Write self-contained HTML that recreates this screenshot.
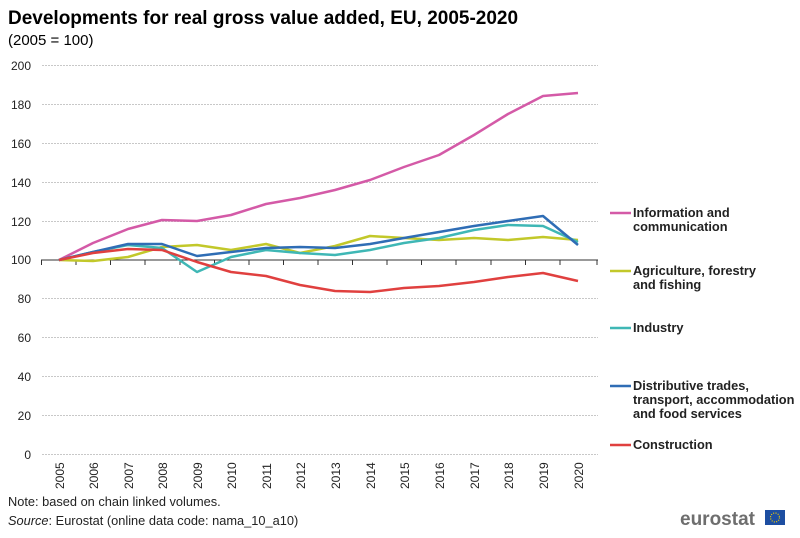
<!DOCTYPE html>
<html><head><meta charset="utf-8"><style>
body{margin:0;width:800px;height:533px;background:#fff;overflow:hidden;font-family:"Liberation Sans",sans-serif}
</style></head><body>
<svg width="800" height="533" xmlns="http://www.w3.org/2000/svg" font-family="Liberation Sans, sans-serif">
<text x="8" y="24" font-size="19" font-weight="bold" fill="#000">Developments for real gross value added, EU, 2005-2020</text>
<text x="8" y="45" font-size="15" fill="#000">(2005 = 100)</text>
<g stroke="#c8c8c8" stroke-dasharray="2,1" stroke-width="1">
<line x1="42" x2="598" y1="65.5" y2="65.5"/><line x1="42" x2="598" y1="104.5" y2="104.5"/>
<line x1="42" x2="598" y1="143.5" y2="143.5"/><line x1="42" x2="598" y1="182.5" y2="182.5"/>
<line x1="42" x2="598" y1="221.5" y2="221.5"/><line x1="42" x2="598" y1="298.5" y2="298.5"/>
<line x1="42" x2="598" y1="337.5" y2="337.5"/><line x1="42" x2="598" y1="376.5" y2="376.5"/>
<line x1="42" x2="598" y1="415.5" y2="415.5"/><line x1="42" x2="598" y1="454.5" y2="454.5"/>
</g>
<line x1="41" x2="598" y1="260" y2="260" stroke="#333" stroke-width="1"/>
<g stroke="#333" stroke-width="1">
<line x1="41.5" x2="41.5" y1="260" y2="265"/><line x1="76" x2="76" y1="260" y2="265"/><line x1="110.5" x2="110.5" y1="260" y2="265"/>
<line x1="145" x2="145" y1="260" y2="265"/><line x1="180" x2="180" y1="260" y2="265"/><line x1="214.5" x2="214.5" y1="260" y2="265"/>
<line x1="249" x2="249" y1="260" y2="265"/><line x1="283.5" x2="283.5" y1="260" y2="265"/><line x1="318" x2="318" y1="260" y2="265"/>
<line x1="352.5" x2="352.5" y1="260" y2="265"/><line x1="387" x2="387" y1="260" y2="265"/><line x1="421.5" x2="421.5" y1="260" y2="265"/>
<line x1="456" x2="456" y1="260" y2="265"/><line x1="491" x2="491" y1="260" y2="265"/><line x1="525.5" x2="525.5" y1="260" y2="265"/>
<line x1="560" x2="560" y1="260" y2="265"/><line x1="597" x2="597" y1="260" y2="265"/>
</g>
<g font-size="12" fill="#222" text-anchor="end">
<text x="31" y="70">200</text><text x="31" y="109">180</text><text x="31" y="148">160</text>
<text x="31" y="187">140</text><text x="31" y="226">120</text><text x="31" y="264">100</text>
<text x="31" y="303">80</text><text x="31" y="342">60</text><text x="31" y="381">40</text>
<text x="31" y="420">20</text><text x="31" y="459">0</text>
</g>
<g fill="none" stroke-width="2.5" stroke-linejoin="round">
<polyline stroke="#d45aa7" points="59,260 93,243 128,229 162,220 197,221 231,215 266,204 300,198 335,190 370,180 404,167 439,155 474,135 508,114 543,96 578,93"/>
<polyline stroke="#c2c82a" points="59,260 93,261 128,257 162,247 197,245 231,250 266,244 300,253 335,246 370,236 404,238 439,240 474,238 508,240 543,237 578,240"/>
<polyline stroke="#3fb7b5" points="59,260 93,252 128,245 162,248 197,272 231,257 266,250 300,253 335,255 370,250 404,243 439,238 474,230 508,225 543,226 578,242"/>
<polyline stroke="#2f6db5" points="59,260 93,252 128,244 162,244 197,256 231,252 266,248 300,247 335,248 370,244 404,238 439,232 474,226 508,221 543,216 578,245"/>
<polyline stroke="#e0403f" points="59,260 93,253 128,249 162,250 197,262 231,272 266,276 300,285 335,291 370,292 404,288 439,286 474,282 508,277 543,273 578,281"/>
</g>
<g font-size="12" fill="#222">
<text transform="translate(64,489) rotate(-90)">2005</text><text transform="translate(98,489) rotate(-90)">2006</text>
<text transform="translate(133,489) rotate(-90)">2007</text><text transform="translate(167,489) rotate(-90)">2008</text>
<text transform="translate(202,489) rotate(-90)">2009</text><text transform="translate(236,489) rotate(-90)">2010</text>
<text transform="translate(271,489) rotate(-90)">2011</text><text transform="translate(305,489) rotate(-90)">2012</text>
<text transform="translate(340,489) rotate(-90)">2013</text><text transform="translate(375,489) rotate(-90)">2014</text>
<text transform="translate(409,489) rotate(-90)">2015</text><text transform="translate(444,489) rotate(-90)">2016</text>
<text transform="translate(479,489) rotate(-90)">2017</text><text transform="translate(513,489) rotate(-90)">2018</text>
<text transform="translate(548,489) rotate(-90)">2019</text><text transform="translate(583,489) rotate(-90)">2020</text>
</g>
<g stroke-width="2.5">
<line x1="610" x2="631" y1="213" y2="213" stroke="#d45aa7"/>
<line x1="610" x2="631" y1="271" y2="271" stroke="#c2c82a"/>
<line x1="610" x2="631" y1="328" y2="328" stroke="#3fb7b5"/>
<line x1="610" x2="631" y1="386" y2="386" stroke="#2f6db5"/>
<line x1="610" x2="631" y1="445" y2="445" stroke="#e0403f"/>
</g>
<g font-size="12.8" font-weight="bold" fill="#222">
<text x="633" y="217">Information and</text><text x="633" y="231">communication</text>
<text x="633" y="275">Agriculture, forestry</text><text x="633" y="289">and fishing</text>
<text x="633" y="332">Industry</text>
<text x="633" y="390">Distributive trades,</text><text x="633" y="404">transport, accommodation</text><text x="633" y="418">and food services</text>
<text x="633" y="449">Construction</text>
</g>
<text x="8" y="506" font-size="12.8" fill="#222">Note: based on chain linked volumes.</text>
<text x="8" y="525" font-size="12.8" fill="#222"><tspan font-style="italic">Source</tspan>: Eurostat (online data code: nama_10_a10)</text>
<text x="680" y="525" font-size="19" font-weight="bold" fill="#6e6e6e">eurostat</text>
<rect x="765" y="510" width="20" height="15" fill="#1d4ea1"/>
<circle cx="775" cy="517.5" r="4.5" fill="none" stroke="#f5d000" stroke-width="1.2" stroke-dasharray="1,1.4"/>
</svg>
</body></html>
